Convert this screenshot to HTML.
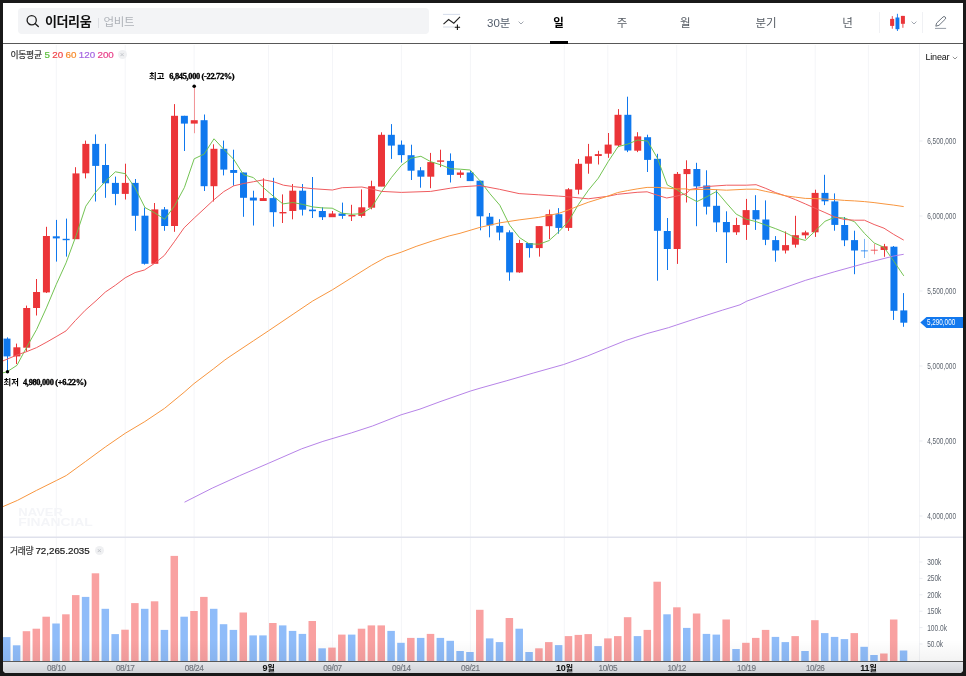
<!DOCTYPE html>
<html lang="ko"><head><meta charset="utf-8"><title>이더리움 차트</title>
<style>
html,body{margin:0;padding:0;background:#191919;}
body{width:966px;height:676px;overflow:hidden;position:relative;font-family:"Liberation Sans","Noto Sans CJK KR","NanumGothic",sans-serif;}
#frame{position:absolute;left:3px;top:3px;width:960px;height:669.5px;background:#fff;border-radius:0 0 4px 4px;overflow:hidden;}
#wrap{position:absolute;left:-3px;top:-3px;width:966px;height:676px;}
.abs{position:absolute;}
#search{left:18px;top:7.6px;width:411px;height:26.8px;background:#f3f4f6;border-radius:4px;}
#nm{left:45px;top:13.2px;font-size:13px;font-weight:700;color:#111;line-height:18px;letter-spacing:-0.4px;}
#ex{left:103.5px;top:13.8px;font-size:11.5px;color:#aeb2b8;line-height:16px;letter-spacing:-0.3px;}
#sdiv{left:98px;top:17.5px;width:1px;height:10px;background:#dcdee2;}
.tab{top:14.2px;width:60px;margin-left:-30px;text-align:center;font-size:11.5px;line-height:18px;color:#555b63;}
.tab.on{color:#000;font-weight:700;}
#hline{left:3px;top:43px;width:960px;height:1px;background:#585858;}
#ul{left:550px;top:41px;width:17.5px;height:2.5px;background:#000;}
#xaxis{left:3px;top:661px;width:960px;height:12px;background:linear-gradient(#e9ebef,#d9dbe0);border-top:1px solid #4a4a4a;box-sizing:border-box;}
.xl{top:664.5px;font-size:9px;line-height:11px;color:#6b7078;width:40px;margin-left:-20px;text-align:center;letter-spacing:-0.4px;}
.xl.b{color:#111;font-weight:700;}
#lg1{left:10.5px;top:48.7px;font-size:8.8px;-webkit-text-stroke:0.2px #333;line-height:12px;color:#333;letter-spacing:-0.3px;white-space:nowrap;}
.dg{display:inline-block;font-size:8.7px;font-weight:400;-webkit-text-stroke:0.2px currentColor;letter-spacing:0;word-spacing:-0.3px;transform:scaleX(1.125);transform-origin:0 50%;white-space:pre;}
#lg2{left:10px;top:544.5px;font-size:8.8px;-webkit-text-stroke:0.2px #333;line-height:12px;color:#333;letter-spacing:-0.3px;white-space:nowrap;}
.xbtn{display:block;width:9px;height:9px;border-radius:50%;background:#eff0f2;color:#bfc2c7;font-size:8px;line-height:9px;text-align:center;}
#lin{left:925.5px;top:51px;font-size:9px;line-height:12px;color:#111;letter-spacing:-0.2px;}
svg text.xl{font-family:"Liberation Sans",sans-serif;font-size:8.3px;fill:#6e727a;stroke:#6e727a;stroke-width:0.15px;}
svg text.xb{font-family:"Liberation Sans","Noto Sans CJK KR","NanumGothic",sans-serif;font-size:9px;font-weight:700;fill:#111;}
svg text.ax{font-family:"Liberation Sans",sans-serif;font-size:9px;fill:#5d646e;}
svg text.tag{font-family:"Liberation Sans",sans-serif;font-size:9px;fill:#fff;}
svg text.wm{font-family:"Liberation Sans",sans-serif;font-size:10.8px;font-weight:700;fill:#f4f5f8;}
svg text.hl{font-family:"Noto Sans CJK KR","NanumGothic",sans-serif;font-size:8.4px;font-weight:700;fill:#000;}
svg text.hls{font-family:"Liberation Serif",serif;font-size:8.4px;font-weight:700;fill:#000;stroke:#000;stroke-width:0.35px;}
</style></head><body>
<div id="frame"><div id="wrap">
<svg class="abs" style="left:0;top:0" width="966" height="676" viewBox="0 0 966 676">
<rect x="55.8" y="45" width="1" height="616" fill="#f4f5f8"/>
<rect x="124.7" y="45" width="1" height="616" fill="#f4f5f8"/>
<rect x="193.6" y="45" width="1" height="616" fill="#f4f5f8"/>
<rect x="268.0" y="45" width="1" height="616" fill="#f4f5f8"/>
<rect x="332.0" y="45" width="1" height="616" fill="#f4f5f8"/>
<rect x="400.9" y="45" width="1" height="616" fill="#f4f5f8"/>
<rect x="469.9" y="45" width="1" height="616" fill="#f4f5f8"/>
<rect x="563.8" y="45" width="1" height="616" fill="#f4f5f8"/>
<rect x="607.3" y="45" width="1" height="616" fill="#f4f5f8"/>
<rect x="676.2" y="45" width="1" height="616" fill="#f4f5f8"/>
<rect x="745.9" y="45" width="1" height="616" fill="#f4f5f8"/>
<rect x="814.7" y="45" width="1" height="616" fill="#f4f5f8"/>
<rect x="867.9" y="45" width="1" height="616" fill="#f4f5f8"/>
<line x1="919.5" y1="44" x2="919.5" y2="661" stroke="#f2f3f6" stroke-width="1"/>
<rect x="3" y="536.5" width="960" height="1.5" fill="#dfe1ec"/>
<text class="wm" x="18.3" y="516" textLength="44.7" lengthAdjust="spacingAndGlyphs">NAVER</text>
<text class="wm" x="18.3" y="526.2" textLength="74.5" lengthAdjust="spacingAndGlyphs">FINANCIAL</text>
<rect x="3.00" y="637.1" width="7.5" height="23.9" fill="#8fbcf9"/>
<rect x="12.86" y="645.3" width="7.5" height="15.7" fill="#8fbcf9"/>
<rect x="22.71" y="631.2" width="7.5" height="29.8" fill="#f9a1a1"/>
<rect x="32.56" y="628.7" width="7.5" height="32.3" fill="#f9a1a1"/>
<rect x="42.42" y="616.7" width="7.5" height="44.3" fill="#f9a1a1"/>
<rect x="52.28" y="623.5" width="7.5" height="37.5" fill="#8fbcf9"/>
<rect x="62.13" y="614.3" width="7.5" height="46.7" fill="#f9a1a1"/>
<rect x="71.98" y="595.1" width="7.5" height="65.9" fill="#f9a1a1"/>
<rect x="81.84" y="596.9" width="7.5" height="64.1" fill="#8fbcf9"/>
<rect x="91.70" y="573.3" width="7.5" height="87.7" fill="#f9a1a1"/>
<rect x="101.55" y="608.8" width="7.5" height="52.2" fill="#8fbcf9"/>
<rect x="111.41" y="634.1" width="7.5" height="26.9" fill="#8fbcf9"/>
<rect x="121.26" y="629.7" width="7.5" height="31.3" fill="#f9a1a1"/>
<rect x="131.12" y="603.1" width="7.5" height="57.9" fill="#f9a1a1"/>
<rect x="140.97" y="608.8" width="7.5" height="52.2" fill="#8fbcf9"/>
<rect x="150.83" y="601.3" width="7.5" height="59.7" fill="#f9a1a1"/>
<rect x="160.68" y="629.9" width="7.5" height="31.1" fill="#8fbcf9"/>
<rect x="170.53" y="555.9" width="7.5" height="105.1" fill="#f9a1a1"/>
<rect x="180.39" y="616.7" width="7.5" height="44.3" fill="#8fbcf9"/>
<rect x="190.25" y="611.0" width="7.5" height="50.0" fill="#f9a1a1"/>
<rect x="200.10" y="596.9" width="7.5" height="64.1" fill="#f9a1a1"/>
<rect x="209.96" y="608.8" width="7.5" height="52.2" fill="#8fbcf9"/>
<rect x="219.81" y="624.2" width="7.5" height="36.8" fill="#8fbcf9"/>
<rect x="229.67" y="629.9" width="7.5" height="31.1" fill="#8fbcf9"/>
<rect x="239.52" y="612.5" width="7.5" height="48.5" fill="#f9a1a1"/>
<rect x="249.38" y="635.4" width="7.5" height="25.6" fill="#8fbcf9"/>
<rect x="259.23" y="635.4" width="7.5" height="25.6" fill="#8fbcf9"/>
<rect x="269.09" y="623.0" width="7.5" height="38.0" fill="#f9a1a1"/>
<rect x="278.94" y="625.4" width="7.5" height="35.6" fill="#8fbcf9"/>
<rect x="288.80" y="630.9" width="7.5" height="30.1" fill="#8fbcf9"/>
<rect x="298.65" y="633.9" width="7.5" height="27.1" fill="#8fbcf9"/>
<rect x="308.50" y="621.0" width="7.5" height="40.0" fill="#f9a1a1"/>
<rect x="318.36" y="648.3" width="7.5" height="12.7" fill="#8fbcf9"/>
<rect x="328.22" y="647.6" width="7.5" height="13.4" fill="#f9a1a1"/>
<rect x="338.07" y="634.6" width="7.5" height="26.4" fill="#f9a1a1"/>
<rect x="347.93" y="634.6" width="7.5" height="26.4" fill="#8fbcf9"/>
<rect x="357.78" y="628.7" width="7.5" height="32.3" fill="#f9a1a1"/>
<rect x="367.63" y="625.4" width="7.5" height="35.6" fill="#f9a1a1"/>
<rect x="377.49" y="625.4" width="7.5" height="35.6" fill="#f9a1a1"/>
<rect x="387.35" y="630.9" width="7.5" height="30.1" fill="#8fbcf9"/>
<rect x="397.20" y="642.8" width="7.5" height="18.2" fill="#8fbcf9"/>
<rect x="407.06" y="637.9" width="7.5" height="23.1" fill="#f9a1a1"/>
<rect x="416.91" y="637.9" width="7.5" height="23.1" fill="#8fbcf9"/>
<rect x="426.77" y="633.9" width="7.5" height="27.1" fill="#f9a1a1"/>
<rect x="436.62" y="637.9" width="7.5" height="23.1" fill="#8fbcf9"/>
<rect x="446.48" y="640.8" width="7.5" height="20.2" fill="#8fbcf9"/>
<rect x="456.33" y="651.0" width="7.5" height="10.0" fill="#8fbcf9"/>
<rect x="466.19" y="652.0" width="7.5" height="9.0" fill="#8fbcf9"/>
<rect x="476.04" y="609.8" width="7.5" height="51.2" fill="#f9a1a1"/>
<rect x="485.90" y="638.4" width="7.5" height="22.6" fill="#8fbcf9"/>
<rect x="495.75" y="642.1" width="7.5" height="18.9" fill="#8fbcf9"/>
<rect x="505.61" y="618.0" width="7.5" height="43.0" fill="#f9a1a1"/>
<rect x="515.46" y="628.7" width="7.5" height="32.3" fill="#8fbcf9"/>
<rect x="525.32" y="652.0" width="7.5" height="9.0" fill="#8fbcf9"/>
<rect x="535.17" y="648.3" width="7.5" height="12.7" fill="#f9a1a1"/>
<rect x="545.02" y="642.1" width="7.5" height="18.9" fill="#f9a1a1"/>
<rect x="554.88" y="645.1" width="7.5" height="15.9" fill="#8fbcf9"/>
<rect x="564.74" y="636.1" width="7.5" height="24.9" fill="#f9a1a1"/>
<rect x="574.59" y="634.9" width="7.5" height="26.1" fill="#f9a1a1"/>
<rect x="584.45" y="634.1" width="7.5" height="26.9" fill="#f9a1a1"/>
<rect x="594.30" y="646.1" width="7.5" height="14.9" fill="#8fbcf9"/>
<rect x="604.15" y="638.4" width="7.5" height="22.6" fill="#f9a1a1"/>
<rect x="614.01" y="636.1" width="7.5" height="24.9" fill="#f9a1a1"/>
<rect x="623.87" y="617.2" width="7.5" height="43.8" fill="#f9a1a1"/>
<rect x="633.72" y="636.1" width="7.5" height="24.9" fill="#8fbcf9"/>
<rect x="643.58" y="629.9" width="7.5" height="31.1" fill="#f9a1a1"/>
<rect x="653.43" y="581.7" width="7.5" height="79.3" fill="#f9a1a1"/>
<rect x="663.29" y="614.3" width="7.5" height="46.7" fill="#8fbcf9"/>
<rect x="673.14" y="607.3" width="7.5" height="53.7" fill="#f9a1a1"/>
<rect x="683.00" y="627.9" width="7.5" height="33.1" fill="#8fbcf9"/>
<rect x="692.85" y="613.5" width="7.5" height="47.5" fill="#f9a1a1"/>
<rect x="702.71" y="633.9" width="7.5" height="27.1" fill="#8fbcf9"/>
<rect x="712.56" y="634.6" width="7.5" height="26.4" fill="#8fbcf9"/>
<rect x="722.42" y="619.5" width="7.5" height="41.5" fill="#f9a1a1"/>
<rect x="732.27" y="649.0" width="7.5" height="12.0" fill="#8fbcf9"/>
<rect x="742.12" y="642.8" width="7.5" height="18.2" fill="#f9a1a1"/>
<rect x="751.98" y="637.9" width="7.5" height="23.1" fill="#f9a1a1"/>
<rect x="761.84" y="629.9" width="7.5" height="31.1" fill="#f9a1a1"/>
<rect x="771.69" y="636.9" width="7.5" height="24.1" fill="#8fbcf9"/>
<rect x="781.55" y="642.1" width="7.5" height="18.9" fill="#8fbcf9"/>
<rect x="791.40" y="636.1" width="7.5" height="24.9" fill="#f9a1a1"/>
<rect x="801.25" y="651.0" width="7.5" height="10.0" fill="#8fbcf9"/>
<rect x="811.11" y="620.2" width="7.5" height="40.8" fill="#f9a1a1"/>
<rect x="820.97" y="633.1" width="7.5" height="27.9" fill="#8fbcf9"/>
<rect x="830.82" y="636.9" width="7.5" height="24.1" fill="#8fbcf9"/>
<rect x="840.68" y="639.1" width="7.5" height="21.9" fill="#8fbcf9"/>
<rect x="850.53" y="633.1" width="7.5" height="27.9" fill="#f9a1a1"/>
<rect x="860.38" y="646.8" width="7.5" height="14.2" fill="#8fbcf9"/>
<rect x="870.24" y="655.0" width="7.5" height="6.0" fill="#8fbcf9"/>
<rect x="880.10" y="653.5" width="7.5" height="7.5" fill="#f9a1a1"/>
<rect x="889.95" y="619.5" width="7.5" height="41.5" fill="#f9a1a1"/>
<rect x="899.81" y="650.5" width="7.5" height="10.5" fill="#8fbcf9"/>
<rect x="7" y="337.4" width="1" height="34.1" fill="#0f78ee"/>
<rect x="3.50" y="338.6" width="7" height="17.8" fill="#0f78ee"/>
<rect x="16" y="343.6" width="1" height="20.4" fill="#eb3438"/>
<rect x="13.36" y="347.3" width="7" height="9.1" fill="#eb3438"/>
<rect x="26" y="305.6" width="1" height="46.0" fill="#eb3438"/>
<rect x="23.21" y="308.0" width="7" height="39.7" fill="#eb3438"/>
<rect x="36" y="279.0" width="1" height="36.5" fill="#eb3438"/>
<rect x="33.06" y="292.0" width="7" height="16.0" fill="#eb3438"/>
<rect x="46" y="226.8" width="1" height="66.2" fill="#eb3438"/>
<rect x="42.92" y="236.0" width="7" height="56.4" fill="#eb3438"/>
<rect x="56" y="219.9" width="1" height="41.7" fill="#0f78ee"/>
<rect x="52.78" y="236.3" width="7" height="2.1" fill="#0f78ee"/>
<rect x="66" y="218.6" width="1" height="38.0" fill="#0f78ee"/>
<rect x="62.63" y="238.8" width="7" height="1.4" fill="#0f78ee"/>
<rect x="75" y="167.2" width="1" height="71.6" fill="#eb3438"/>
<rect x="72.48" y="173.4" width="7" height="65.8" fill="#eb3438"/>
<rect x="85" y="140.6" width="1" height="37.8" fill="#eb3438"/>
<rect x="82.34" y="143.9" width="7" height="29.4" fill="#eb3438"/>
<rect x="95" y="134.4" width="1" height="67.1" fill="#0f78ee"/>
<rect x="92.20" y="143.9" width="7" height="22.0" fill="#0f78ee"/>
<rect x="105" y="143.9" width="1" height="53.9" fill="#0f78ee"/>
<rect x="102.05" y="165.0" width="7" height="18.3" fill="#0f78ee"/>
<rect x="115" y="176.6" width="1" height="28.6" fill="#0f78ee"/>
<rect x="111.91" y="182.9" width="7" height="11.0" fill="#0f78ee"/>
<rect x="125" y="163.7" width="1" height="35.8" fill="#eb3438"/>
<rect x="121.76" y="182.9" width="7" height="11.0" fill="#eb3438"/>
<rect x="135" y="179.0" width="1" height="51.8" fill="#0f78ee"/>
<rect x="131.62" y="182.9" width="7" height="32.9" fill="#0f78ee"/>
<rect x="144" y="207.5" width="1" height="57.1" fill="#0f78ee"/>
<rect x="141.47" y="215.7" width="7" height="48.1" fill="#0f78ee"/>
<rect x="154" y="203.0" width="1" height="60.4" fill="#eb3438"/>
<rect x="151.33" y="209.4" width="7" height="54.4" fill="#eb3438"/>
<rect x="164" y="207.0" width="1" height="23.8" fill="#0f78ee"/>
<rect x="161.18" y="209.4" width="7" height="16.6" fill="#0f78ee"/>
<rect x="174" y="104.1" width="1" height="127.7" fill="#eb3438"/>
<rect x="171.03" y="115.8" width="7" height="110.2" fill="#eb3438"/>
<rect x="184" y="115.8" width="1" height="35.2" fill="#0f78ee"/>
<rect x="180.89" y="115.8" width="7" height="7.8" fill="#0f78ee"/>
<rect x="194" y="87.2" width="1" height="46.0" fill="#eb3438" opacity="0.5"/>
<rect x="190.75" y="120.2" width="7" height="3.4" fill="#eb3438"/>
<rect x="204" y="114.5" width="1" height="76.5" fill="#0f78ee"/>
<rect x="200.60" y="120.2" width="7" height="66.0" fill="#0f78ee"/>
<rect x="213" y="144.3" width="1" height="57.2" fill="#eb3438"/>
<rect x="210.46" y="148.8" width="7" height="37.4" fill="#eb3438"/>
<rect x="223" y="140.6" width="1" height="34.8" fill="#0f78ee"/>
<rect x="220.31" y="148.8" width="7" height="20.8" fill="#0f78ee"/>
<rect x="233" y="149.7" width="1" height="36.0" fill="#0f78ee"/>
<rect x="230.17" y="170.0" width="7" height="2.9" fill="#0f78ee"/>
<rect x="243" y="172.5" width="1" height="44.3" fill="#0f78ee"/>
<rect x="240.02" y="172.5" width="7" height="25.3" fill="#0f78ee"/>
<rect x="253" y="190.7" width="1" height="34.8" fill="#0f78ee"/>
<rect x="249.88" y="197.6" width="7" height="2.9" fill="#0f78ee"/>
<rect x="263" y="178.3" width="1" height="22.3" fill="#eb3438"/>
<rect x="259.73" y="198.1" width="7" height="2.9" fill="#eb3438"/>
<rect x="273" y="177.8" width="1" height="48.9" fill="#0f78ee"/>
<rect x="269.59" y="198.1" width="7" height="14.1" fill="#0f78ee"/>
<rect x="282" y="194.4" width="1" height="28.6" fill="#eb3438"/>
<rect x="279.44" y="212.0" width="7" height="1.4" fill="#eb3438"/>
<rect x="292" y="184.0" width="1" height="35.3" fill="#eb3438"/>
<rect x="289.30" y="190.7" width="7" height="20.3" fill="#eb3438"/>
<rect x="302" y="184.0" width="1" height="31.5" fill="#0f78ee"/>
<rect x="299.15" y="190.7" width="7" height="19.0" fill="#0f78ee"/>
<rect x="312" y="177.0" width="1" height="41.0" fill="#0f78ee"/>
<rect x="309.00" y="209.6" width="7" height="1.6" fill="#0f78ee"/>
<rect x="322" y="207.3" width="1" height="12.7" fill="#0f78ee"/>
<rect x="318.86" y="211.0" width="7" height="6.2" fill="#0f78ee"/>
<rect x="332" y="211.0" width="1" height="5.8" fill="#eb3438"/>
<rect x="328.72" y="213.5" width="7" height="3.7" fill="#eb3438"/>
<rect x="342" y="202.6" width="1" height="16.2" fill="#0f78ee"/>
<rect x="338.57" y="213.5" width="7" height="2.4" fill="#0f78ee"/>
<rect x="351" y="204.8" width="1" height="16.2" fill="#eb3438"/>
<rect x="348.43" y="215.0" width="7" height="1.4" fill="#eb3438"/>
<rect x="361" y="189.4" width="1" height="28.1" fill="#eb3438"/>
<rect x="358.28" y="207.3" width="7" height="8.6" fill="#eb3438"/>
<rect x="371" y="180.7" width="1" height="28.6" fill="#eb3438"/>
<rect x="368.13" y="186.2" width="7" height="21.5" fill="#eb3438"/>
<rect x="381" y="132.3" width="1" height="53.9" fill="#eb3438"/>
<rect x="377.99" y="134.8" width="7" height="51.8" fill="#eb3438"/>
<rect x="391" y="124.1" width="1" height="34.8" fill="#0f78ee"/>
<rect x="387.85" y="134.8" width="7" height="10.8" fill="#0f78ee"/>
<rect x="401" y="140.5" width="1" height="22.1" fill="#0f78ee"/>
<rect x="397.70" y="144.7" width="7" height="10.4" fill="#0f78ee"/>
<rect x="411" y="144.7" width="1" height="35.3" fill="#0f78ee"/>
<rect x="407.56" y="155.2" width="7" height="15.5" fill="#0f78ee"/>
<rect x="420" y="167.1" width="1" height="20.6" fill="#0f78ee"/>
<rect x="417.41" y="170.3" width="7" height="6.4" fill="#0f78ee"/>
<rect x="430" y="152.9" width="1" height="35.3" fill="#eb3438"/>
<rect x="427.27" y="162.1" width="7" height="14.6" fill="#eb3438"/>
<rect x="440" y="149.7" width="1" height="17.4" fill="#eb3438"/>
<rect x="437.12" y="160.4" width="7" height="1.4" fill="#eb3438"/>
<rect x="450" y="153.4" width="1" height="29.1" fill="#0f78ee"/>
<rect x="446.98" y="160.9" width="7" height="14.0" fill="#0f78ee"/>
<rect x="460" y="170.3" width="1" height="7.5" fill="#eb3438"/>
<rect x="456.83" y="172.5" width="7" height="2.4" fill="#eb3438"/>
<rect x="470" y="170.7" width="1" height="10.0" fill="#0f78ee"/>
<rect x="466.69" y="172.5" width="7" height="8.6" fill="#0f78ee"/>
<rect x="480" y="180.7" width="1" height="49.6" fill="#0f78ee"/>
<rect x="476.54" y="180.7" width="7" height="35.6" fill="#0f78ee"/>
<rect x="489" y="213.0" width="1" height="24.3" fill="#0f78ee"/>
<rect x="486.40" y="216.7" width="7" height="8.6" fill="#0f78ee"/>
<rect x="499" y="219.2" width="1" height="21.1" fill="#0f78ee"/>
<rect x="496.25" y="225.9" width="7" height="6.6" fill="#0f78ee"/>
<rect x="509" y="230.3" width="1" height="50.4" fill="#0f78ee"/>
<rect x="506.11" y="232.3" width="7" height="40.1" fill="#0f78ee"/>
<rect x="519" y="239.8" width="1" height="33.0" fill="#eb3438"/>
<rect x="515.96" y="243.0" width="7" height="29.4" fill="#eb3438"/>
<rect x="529" y="243.0" width="1" height="14.6" fill="#0f78ee"/>
<rect x="525.82" y="243.0" width="7" height="5.1" fill="#0f78ee"/>
<rect x="539" y="226.1" width="1" height="30.5" fill="#eb3438"/>
<rect x="535.67" y="226.1" width="7" height="22.0" fill="#eb3438"/>
<rect x="549" y="209.6" width="1" height="29.4" fill="#eb3438"/>
<rect x="545.52" y="214.2" width="7" height="12.0" fill="#eb3438"/>
<rect x="558" y="208.1" width="1" height="25.6" fill="#0f78ee"/>
<rect x="555.38" y="214.2" width="7" height="13.7" fill="#0f78ee"/>
<rect x="568" y="188.1" width="1" height="42.8" fill="#eb3438"/>
<rect x="565.24" y="189.3" width="7" height="38.6" fill="#eb3438"/>
<rect x="578" y="159.0" width="1" height="35.3" fill="#eb3438"/>
<rect x="575.09" y="163.8" width="7" height="25.9" fill="#eb3438"/>
<rect x="588" y="143.9" width="1" height="29.8" fill="#eb3438"/>
<rect x="584.95" y="156.3" width="7" height="7.4" fill="#eb3438"/>
<rect x="598" y="150.8" width="1" height="13.7" fill="#eb3438"/>
<rect x="594.80" y="154.1" width="7" height="1.9" fill="#eb3438"/>
<rect x="608" y="133.0" width="1" height="24.8" fill="#eb3438"/>
<rect x="604.65" y="144.6" width="7" height="9.1" fill="#eb3438"/>
<rect x="618" y="109.1" width="1" height="38.0" fill="#eb3438"/>
<rect x="614.51" y="114.8" width="7" height="30.7" fill="#eb3438"/>
<rect x="627" y="96.7" width="1" height="55.4" fill="#0f78ee"/>
<rect x="624.37" y="114.8" width="7" height="35.7" fill="#0f78ee"/>
<rect x="637" y="132.2" width="1" height="19.9" fill="#eb3438"/>
<rect x="634.22" y="136.4" width="7" height="14.3" fill="#eb3438"/>
<rect x="647" y="134.7" width="1" height="37.3" fill="#0f78ee"/>
<rect x="644.08" y="137.2" width="7" height="22.7" fill="#0f78ee"/>
<rect x="657" y="153.8" width="1" height="126.9" fill="#0f78ee"/>
<rect x="653.93" y="158.8" width="7" height="72.0" fill="#0f78ee"/>
<rect x="667" y="218.0" width="1" height="52.0" fill="#0f78ee"/>
<rect x="663.79" y="231.0" width="7" height="18.0" fill="#0f78ee"/>
<rect x="677" y="172.0" width="1" height="91.9" fill="#eb3438"/>
<rect x="673.64" y="173.9" width="7" height="75.1" fill="#eb3438"/>
<rect x="686" y="160.3" width="1" height="42.2" fill="#eb3438"/>
<rect x="683.50" y="169.0" width="7" height="5.1" fill="#eb3438"/>
<rect x="696" y="162.8" width="1" height="63.4" fill="#0f78ee"/>
<rect x="693.35" y="169.0" width="7" height="17.4" fill="#0f78ee"/>
<rect x="706" y="170.3" width="1" height="44.2" fill="#0f78ee"/>
<rect x="703.21" y="185.5" width="7" height="21.2" fill="#0f78ee"/>
<rect x="716" y="189.7" width="1" height="42.2" fill="#0f78ee"/>
<rect x="713.06" y="205.8" width="7" height="16.6" fill="#0f78ee"/>
<rect x="726" y="211.3" width="1" height="51.7" fill="#0f78ee"/>
<rect x="722.92" y="222.0" width="7" height="10.3" fill="#0f78ee"/>
<rect x="736" y="217.8" width="1" height="17.1" fill="#eb3438"/>
<rect x="732.77" y="225.0" width="7" height="7.3" fill="#eb3438"/>
<rect x="746" y="198.9" width="1" height="41.0" fill="#eb3438"/>
<rect x="742.62" y="210.1" width="7" height="14.8" fill="#eb3438"/>
<rect x="755" y="195.2" width="1" height="34.7" fill="#0f78ee"/>
<rect x="752.48" y="210.1" width="7" height="9.3" fill="#0f78ee"/>
<rect x="765" y="200.4" width="1" height="44.7" fill="#0f78ee"/>
<rect x="762.34" y="219.5" width="7" height="20.3" fill="#0f78ee"/>
<rect x="775" y="236.1" width="1" height="25.6" fill="#0f78ee"/>
<rect x="772.19" y="240.1" width="7" height="10.4" fill="#0f78ee"/>
<rect x="785" y="231.4" width="1" height="22.1" fill="#eb3438"/>
<rect x="782.05" y="245.1" width="7" height="5.4" fill="#eb3438"/>
<rect x="795" y="215.8" width="1" height="31.8" fill="#eb3438"/>
<rect x="791.90" y="235.2" width="7" height="9.5" fill="#eb3438"/>
<rect x="805" y="230.7" width="1" height="7.9" fill="#eb3438"/>
<rect x="801.75" y="232.4" width="7" height="2.9" fill="#eb3438"/>
<rect x="815" y="189.7" width="1" height="47.2" fill="#eb3438"/>
<rect x="811.61" y="192.9" width="7" height="39.4" fill="#eb3438"/>
<rect x="824" y="174.8" width="1" height="30.3" fill="#0f78ee"/>
<rect x="821.47" y="192.9" width="7" height="8.4" fill="#0f78ee"/>
<rect x="834" y="193.4" width="1" height="37.3" fill="#0f78ee"/>
<rect x="831.32" y="201.4" width="7" height="23.5" fill="#0f78ee"/>
<rect x="844" y="217.0" width="1" height="29.1" fill="#0f78ee"/>
<rect x="841.18" y="225.0" width="7" height="15.3" fill="#0f78ee"/>
<rect x="854" y="230.7" width="1" height="43.5" fill="#0f78ee"/>
<rect x="851.03" y="240.1" width="7" height="10.4" fill="#0f78ee"/>
<rect x="864" y="238.9" width="1" height="19.1" fill="#0f78ee" opacity="0.55"/>
<rect x="860.88" y="250.1" width="7" height="1.4" fill="#0f78ee" opacity="0.55"/>
<rect x="874" y="243.9" width="1" height="10.4" fill="#eb3438" opacity="0.55"/>
<rect x="870.74" y="249.6" width="7" height="1.4" fill="#eb3438" opacity="0.55"/>
<rect x="884" y="243.9" width="1" height="12.9" fill="#eb3438"/>
<rect x="880.60" y="246.3" width="7" height="3.7" fill="#eb3438"/>
<rect x="893" y="246.0" width="1" height="73.9" fill="#0f78ee"/>
<rect x="890.45" y="246.7" width="7" height="64.1" fill="#0f78ee"/>
<rect x="903" y="293.1" width="1" height="33.7" fill="#0f78ee"/>
<rect x="900.31" y="310.4" width="7" height="12.3" fill="#0f78ee"/>
<polyline points="3.0,372.8 7.0,371.8 16.9,365.4 26.7,347.2 36.6,329.5 46.4,307.9 56.3,284.3 66.1,262.8 76.0,235.8 85.8,206.2 95.7,192.1 105.6,181.1 115.4,171.8 125.3,173.7 135.1,188.0 145.0,207.6 154.8,212.9 164.7,219.3 174.5,205.9 184.4,187.5 194.2,158.8 204.1,154.1 214.0,138.8 223.8,149.4 233.7,159.3 243.5,174.7 253.4,177.6 263.2,187.5 273.1,196.0 282.9,203.9 292.8,202.5 302.7,204.4 312.5,206.9 322.4,207.9 332.2,208.2 342.1,213.2 351.9,214.3 361.8,213.6 371.6,207.5 381.5,191.8 391.3,177.7 401.2,165.6 411.1,158.2 420.9,156.3 430.8,161.7 440.6,164.8 450.5,168.7 460.3,169.2 470.2,170.0 480.0,180.8 489.9,193.7 499.8,205.2 509.6,225.1 519.5,237.6 529.3,243.9 539.2,244.2 549.0,240.6 558.9,231.7 568.7,221.0 578.6,204.2 588.4,190.2 598.3,178.2 608.2,161.6 618.0,146.7 627.9,144.0 637.7,140.0 647.6,141.1 657.4,158.2 667.3,185.0 677.1,189.8 687.0,196.3 696.9,201.6 706.7,196.8 716.6,191.4 726.4,203.0 736.3,214.2 746.1,219.1 756.0,221.6 765.8,225.1 775.7,228.7 785.5,232.7 795.4,237.8 805.3,240.4 815.1,231.1 825.0,221.3 834.8,217.2 844.7,218.1 854.5,221.7 864.4,233.3 874.2,243.0 884.1,247.4 894.0,261.5 903.8,275.9" fill="none" stroke="#6cc04a" stroke-width="0.95" stroke-linejoin="round"/>
<polyline points="3.0,360.9 17.0,355.0 27.0,351.5 36.6,347.6 46.9,342.0 56.8,336.3 66.0,330.9 75.3,320.6 85.2,310.3 96.0,300.8 105.3,292.1 115.3,285.3 125.2,277.8 135.1,272.6 144.4,270.0 154.4,263.5 164.3,255.5 174.3,241.8 184.1,227.8 194.6,217.7 204.0,209.0 213.3,200.3 223.8,191.6 233.8,185.8 243.7,183.5 253.6,181.7 263.6,179.8 273.5,181.7 283.5,185.2 293.4,186.6 312.7,188.7 332.4,190.0 342.3,187.7 361.9,187.0 371.6,189.0 381.6,191.4 401.4,192.4 430.7,191.4 450.4,188.2 460.0,186.9 479.9,185.6 499.5,189.3 519.1,193.6 538.8,194.8 558.6,196.1 568.3,196.8 588.2,198.8 607.8,196.3 617.5,194.3 637.1,192.3 647.1,191.8 657.0,195.1 666.7,198.0 676.6,196.1 686.3,193.6 690.0,189.5 706.9,186.5 726.5,185.2 746.4,185.2 756.1,184.7 765.8,188.4 775.7,192.7 785.7,195.9 795.3,199.6 805.3,203.9 815.2,208.3 824.9,212.5 834.8,217.0 844.5,219.5 854.5,220.2 864.4,220.2 874.1,224.5 884.0,228.2 893.7,234.4 903.7,240.1" fill="none" stroke="#ef5c5f" stroke-width="1.0" stroke-linejoin="round"/>
<polyline points="3.0,506.6 17.4,500.4 36.5,490.4 56.4,480.5 66.3,475.5 85.7,461.4 105.3,447.0 125.2,433.3 144.8,421.6 164.5,408.4 184.1,392.3 194.0,383.6 213.7,368.7 224.8,360.0 230.0,356.4 253.6,340.7 268.5,330.8 293.1,314.2 312.7,301.0 332.4,289.8 351.5,277.8 371.4,265.4 386.3,257.1 401.2,252.2 416.1,246.4 432.6,240.9 449.2,235.9 460.0,233.3 479.9,227.4 499.5,222.9 519.1,219.9 538.8,217.4 558.6,213.4 568.3,210.0 578.3,206.0 588.2,202.3 597.9,199.3 607.8,196.1 617.5,192.6 627.5,190.6 637.1,188.9 647.1,187.4 657.0,187.4 666.7,188.1 676.6,188.9 686.3,188.9 690.0,189.8 706.9,189.2 726.5,190.2 746.4,189.2 756.1,189.2 765.8,191.4 775.7,193.4 785.7,195.9 795.3,197.1 805.3,198.4 815.2,198.6 824.9,199.1 834.8,199.6 844.5,200.4 854.5,200.9 864.4,201.6 874.1,202.6 884.0,203.9 893.7,205.1 903.7,206.6" fill="none" stroke="#f8963f" stroke-width="1.0" stroke-linejoin="round"/>
<polyline points="184.5,502.2 212.3,488.1 239.6,475.7 268.7,463.2 301.7,448.8 322.9,441.4 351.4,432.9 372.5,426.0 401.1,414.8 420.0,409.1 440.0,401.7 470.3,391.1 480.0,388.2 506.9,380.7 533.8,372.9 563.4,364.6 587.7,355.9 607.3,347.9 625.4,340.6 646.9,333.6 668.4,327.7 676.5,325.0 695.3,318.8 722.3,310.2 740.0,304.8 746.9,301.1 775.7,290.8 805.3,280.4 834.8,271.7 864.4,263.5 884.0,258.5 893.7,256.0 903.7,254.3" fill="none" stroke="#b27ce6" stroke-width="0.95" stroke-linejoin="round"/>
<line x1="919" y1="141" x2="922.5" y2="141" stroke="#ebedf2" stroke-width="1"/>
<text class="ax" x="927.2" y="143.9" textLength="28.8" lengthAdjust="spacingAndGlyphs">6,500,000</text>
<line x1="919" y1="216" x2="922.5" y2="216" stroke="#ebedf2" stroke-width="1"/>
<text class="ax" x="927.2" y="218.9" textLength="28.8" lengthAdjust="spacingAndGlyphs">6,000,000</text>
<line x1="919" y1="291" x2="922.5" y2="291" stroke="#ebedf2" stroke-width="1"/>
<text class="ax" x="927.2" y="293.9" textLength="28.8" lengthAdjust="spacingAndGlyphs">5,500,000</text>
<line x1="919" y1="366" x2="922.5" y2="366" stroke="#ebedf2" stroke-width="1"/>
<text class="ax" x="927.2" y="368.9" textLength="28.8" lengthAdjust="spacingAndGlyphs">5,000,000</text>
<line x1="919" y1="441" x2="922.5" y2="441" stroke="#ebedf2" stroke-width="1"/>
<text class="ax" x="927.2" y="443.9" textLength="28.8" lengthAdjust="spacingAndGlyphs">4,500,000</text>
<line x1="919" y1="516" x2="922.5" y2="516" stroke="#ebedf2" stroke-width="1"/>
<text class="ax" x="927.2" y="518.9" textLength="28.8" lengthAdjust="spacingAndGlyphs">4,000,000</text>
<line x1="919" y1="562" x2="922.5" y2="562" stroke="#ebedf2" stroke-width="1"/>
<text class="ax" x="927.2" y="564.9" textLength="14.2" lengthAdjust="spacingAndGlyphs">300k</text>
<line x1="919" y1="578.4" x2="922.5" y2="578.4" stroke="#ebedf2" stroke-width="1"/>
<text class="ax" x="927.2" y="581.3" textLength="14.2" lengthAdjust="spacingAndGlyphs">250k</text>
<line x1="919" y1="594.8" x2="922.5" y2="594.8" stroke="#ebedf2" stroke-width="1"/>
<text class="ax" x="927.2" y="597.6999999999999" textLength="14.2" lengthAdjust="spacingAndGlyphs">200k</text>
<line x1="919" y1="611.2" x2="922.5" y2="611.2" stroke="#ebedf2" stroke-width="1"/>
<text class="ax" x="927.2" y="614.1" textLength="14.2" lengthAdjust="spacingAndGlyphs">150k</text>
<line x1="919" y1="627.6" x2="922.5" y2="627.6" stroke="#ebedf2" stroke-width="1"/>
<text class="ax" x="927.2" y="630.5" textLength="19.8" lengthAdjust="spacingAndGlyphs">100.0k</text>
<line x1="919" y1="644" x2="922.5" y2="644" stroke="#ebedf2" stroke-width="1"/>
<text class="ax" x="927.2" y="646.9" textLength="15.8" lengthAdjust="spacingAndGlyphs">50.0k</text>
<path d="M920.3 322.5 L926.5 317 H963 V328 H926.5 Z" fill="#1278ee"/>
<text class="tag" x="927" y="324.6" textLength="28.2" lengthAdjust="spacingAndGlyphs">5,290,000</text>
<circle cx="194.2" cy="86.3" r="1.8" fill="#000"/>
<circle cx="7.5" cy="371.8" r="1.7" fill="#000"/>
<text class="hl" x="149" y="79">최고</text>
<text class="hls" x="169.3" y="79" textLength="65.3" lengthAdjust="spacing">6,845,000 (-22.72%)</text>
<text class="hl" x="3.5" y="385.4">최저</text>
<text class="hls" x="23" y="385.4" textLength="63.5" lengthAdjust="spacing">4,980,000 (+6.22%)</text>
<defs><linearGradient id="fg" x1="0" y1="0" x2="0" y2="1"><stop offset="0" stop-color="#000" stop-opacity="0"/><stop offset="1" stop-color="#000" stop-opacity="0.045"/></linearGradient></defs>
<rect x="3" y="640" width="960" height="21" fill="url(#fg)"/>
<defs><linearGradient id="xg" x1="0" y1="0" x2="0" y2="1"><stop offset="0" stop-color="#e6e8ec"/><stop offset="1" stop-color="#d0d2d7"/></linearGradient></defs>
<rect x="3" y="661" width="960" height="12" fill="url(#xg)"/>
<rect x="3" y="661" width="960" height="1" fill="#595959"/>
<text class="xl" x="47.0" y="671.2" textLength="18.6" lengthAdjust="spacingAndGlyphs">08/10</text>
<text class="xl" x="115.9" y="671.2" textLength="18.6" lengthAdjust="spacingAndGlyphs">08/17</text>
<text class="xl" x="184.8" y="671.2" textLength="18.6" lengthAdjust="spacingAndGlyphs">08/24</text>
<text class="xb" x="268.5" y="671.4" text-anchor="middle" letter-spacing="-0.3">9<tspan font-size="8.2">월</tspan></text>
<text class="xl" x="323.2" y="671.2" textLength="18.6" lengthAdjust="spacingAndGlyphs">09/07</text>
<text class="xl" x="392.1" y="671.2" textLength="18.6" lengthAdjust="spacingAndGlyphs">09/14</text>
<text class="xl" x="461.1" y="671.2" textLength="18.6" lengthAdjust="spacingAndGlyphs">09/21</text>
<text class="xb" x="564.3" y="671.4" text-anchor="middle" letter-spacing="-0.3">10<tspan font-size="8.2">월</tspan></text>
<text class="xl" x="598.5" y="671.2" textLength="18.6" lengthAdjust="spacingAndGlyphs">10/05</text>
<text class="xl" x="667.4" y="671.2" textLength="18.6" lengthAdjust="spacingAndGlyphs">10/12</text>
<text class="xl" x="737.1" y="671.2" textLength="18.6" lengthAdjust="spacingAndGlyphs">10/19</text>
<text class="xl" x="805.9" y="671.2" textLength="18.6" lengthAdjust="spacingAndGlyphs">10/26</text>
<text class="xb" x="868.4" y="671.4" text-anchor="middle" letter-spacing="-0.3">11<tspan font-size="8.2">월</tspan></text>
</svg>
<div id="search" class="abs"></div>
<svg class="abs" style="left:24px;top:12px" width="18" height="18" viewBox="0 0 18 18"><circle cx="7.7" cy="8.3" r="4.6" fill="none" stroke="#222" stroke-width="1.3"/><path d="M11.1 11.6L14.3 14.6" stroke="#222" stroke-width="1.4" stroke-linecap="round"/></svg>
<div id="nm" class="abs">이더리움</div>
<div id="sdiv" class="abs"></div>
<div id="ex" class="abs">업비트</div>
<svg class="abs" style="left:440px;top:10px" width="26" height="24" viewBox="440 10 26 24"><path d="M443 14.4H460" stroke="#c9d3e6" stroke-width="0.8"/><path d="M443 27H454" stroke="#d5dbe6" stroke-width="1"/><path d="M443.5 24.2L448.6 19.5L453.8 23.2L460 16.9" fill="none" stroke="#222" stroke-width="1.1"/><path d="M454.7 27.3H460.1M457.4 24.6V30" stroke="#111" stroke-width="1.1"/></svg>
<div class="abs tab" style="left:498.7px;color:#525c6a">30분</div>
<svg class="abs" style="left:517px;top:19px" width="8" height="8" viewBox="0 0 8 8"><path d="M1.6 2.6L4 5L6.4 2.6" fill="none" stroke="#8a919c" stroke-width="0.8"/></svg>
<div class="abs tab on" style="left:558.6px">일</div>
<div class="abs tab" style="left:622px">주</div>
<div class="abs tab" style="left:685.3px">월</div>
<div class="abs tab" style="left:766px">분기</div>
<div class="abs tab" style="left:847.5px">년</div>
<div class="abs" style="left:879px;top:12px;width:1px;height:21px;background:#f0f1f4"></div>
<svg class="abs" style="left:888px;top:11px" width="20" height="22" viewBox="888 11 20 22"><path d="M892.3 16.1V28.7M902.9 15.9V27.8" stroke="#ea3439" stroke-width="0.9"/><path d="M897.45 13.8V31" stroke="#1076ec" stroke-width="0.9"/><rect x="890.1" y="18.9" width="4.1" height="7" fill="#ea3439"/><rect x="895.5" y="17.5" width="3.9" height="11.7" fill="#1076ec"/><rect x="900.9" y="15.9" width="4" height="7.9" fill="#ea3439"/></svg>
<svg class="abs" style="left:909.5px;top:18.5px" width="8" height="8" viewBox="0 0 8 8"><path d="M1.6 2.6L4 5L6.4 2.6" fill="none" stroke="#8a919c" stroke-width="0.8"/></svg>
<div class="abs" style="left:922px;top:12px;width:1px;height:21px;background:#f0f1f4"></div>
<svg class="abs" style="left:932px;top:13px" width="18" height="18" viewBox="932 13 18 18"><path d="M935.8 26.2L936.6 23.1L943.0 17.0a1.5 1.5 0 0 1 2.2 2.2L939.0 25.3Z" fill="none" stroke="#5c6570" stroke-width="0.9" stroke-linejoin="round"/><path d="M935 28.4H946.1" stroke="#7b838e" stroke-width="0.8"/></svg>
<div id="hline" class="abs"></div>
<div id="ul" class="abs"></div>
<div id="lg1" class="abs">이동평균<span class="dg"> <span style="color:#5fbf3f">5</span> <span style="color:#f0474c">20</span> <span style="color:#f78a2c">60</span> <span style="color:#a566e0">120</span> <span style="color:#e8408a">200</span></span></div><span class="xbtn abs" style="left:117.7px;top:49.5px">×</span>
<div id="lin" class="abs">Linear</div>
<svg class="abs" style="left:951.4px;top:53.5px" width="8" height="8" viewBox="0 0 8 8"><path d="M1.8 2.8L4 5L6.2 2.8" fill="none" stroke="#777" stroke-width="0.8"/></svg>
<div id="lg2" class="abs">거래량<span class="dg" style="color:#222"> 72,265.2035</span></div><span class="xbtn abs" style="left:94.9px;top:545.6px">×</span>
</div></div>
</body></html>
